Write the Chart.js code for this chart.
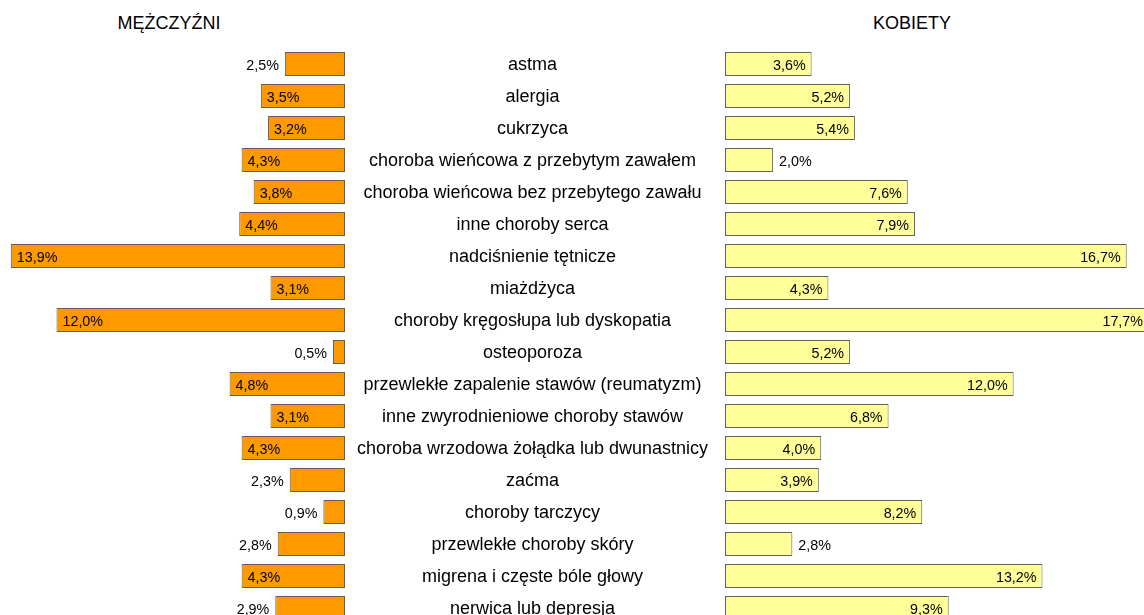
<!DOCTYPE html>
<html>
<head>
<meta charset="utf-8">
<script src="https://cdn.jsdelivr.net/npm/chart.js@4/dist/chart.umd.min.js"></script>
<style>
    html, body { margin: 0; padding: 0; background: #fff; overflow: hidden; width: 1144px; height: 615px; }
    .title { position: absolute; top: 14px; width: 200px; text-align: center; font: 18px "Liberation Sans", Arial, sans-serif; line-height: 18px; color: #000; }
    canvas { position: absolute; top: 48px; }
</style>
</head>
<body>
<div class="title" style="left: 69px;">MĘŻCZYŹNI</div>
<div class="title" style="left: 812px;">KOBIETY</div>
<canvas id="menChart" width="720" height="576" style="left: 0;"></canvas>
<canvas id="womenChart" width="419" height="576" style="left: 725px;"></canvas>
<script>
const categories = [
    'astma',
    'alergia',
    'cukrzyca',
    'choroba wieńcowa z przebytym zawałem',
    'choroba wieńcowa bez przebytego zawału',
    'inne choroby serca',
    'nadciśnienie tętnicze',
    'miażdżyca',
    'choroby kręgosłupa lub dyskopatia',
    'osteoporoza',
    'przewlekłe zapalenie stawów (reumatyzm)',
    'inne zwyrodnieniowe choroby stawów',
    'choroba wrzodowa żołądka lub dwunastnicy',
    'zaćma',
    'choroby tarczycy',
    'przewlekłe choroby skóry',
    'migrena i częste bóle głowy',
    'nerwica lub depresja',
];
const menValues = [2.5, 3.5, 3.2, 4.3, 3.8, 4.4, 13.9, 3.1, 12.0, 0.5, 4.8, 3.1, 4.3, 2.3, 0.9, 2.8, 4.3, 2.9];
const womenValues = [3.6, 5.2, 5.4, 2.0, 7.6, 7.9, 16.7, 4.3, 17.7, 5.2, 12.0, 6.8, 4.0, 3.9, 8.2, 2.8, 13.2, 9.3];

const FONT = '"Liberation Sans", Arial, sans-serif';
const fmt = (v) => v.toFixed(1).replace('.', ',') + '%';

// value labels: inside the bar when it is wide enough, otherwise just outside
const valueLabels = {
    id: 'valueLabels',
    afterDatasetsDraw(chart) {
        const ctx = chart.ctx;
        const area = chart.chartArea;
        const reversed = chart.options.scales.x.reverse;
        const data = chart.data.datasets[0].data;
        ctx.save();
        ctx.font = '14.3px ' + FONT;
        ctx.fillStyle = '#000';
        ctx.textBaseline = 'middle';
        chart.getDatasetMeta(0).data.forEach((bar, i) => {
            const v = data[i];
            const y = bar.y + 2;
            if (reversed) {
                if (v >= 3) {
                    ctx.textAlign = 'left';
                    ctx.fillText(fmt(v), Math.max(bar.x + 6, area.left + 2), y);
                } else {
                    ctx.textAlign = 'right';
                    ctx.fillText(fmt(v), bar.x - 6, y);
                }
            } else {
                if (v >= 3) {
                    ctx.textAlign = 'right';
                    ctx.fillText(fmt(v), Math.min(bar.x - 6, area.right - 1), y);
                } else {
                    ctx.textAlign = 'left';
                    ctx.fillText(fmt(v), bar.x + 6, y);
                }
            }
        });
        ctx.restore();
    },
};

// category names centred in the gap between the two charts
const centreLabels = {
    id: 'centreLabels',
    afterDraw(chart) {
        const scale = chart.scales.y;
        const ctx = chart.ctx;
        ctx.save();
        ctx.font = '18px ' + FONT;
        ctx.fillStyle = '#000';
        ctx.textAlign = 'center';
        ctx.textBaseline = 'middle';
        const cx = (scale.left + scale.right) / 2;
        categories.forEach((name, i) => {
            ctx.fillText(name, cx, scale.getPixelForTick(i) + 1);
        });
        ctx.restore();
    },
};

function barOptions(reverse, max, showAxis) {
    const y = {
        display: showAxis,
        position: 'right',
        grid: { display: false, drawTicks: false },
        border: { display: false },
        ticks: { display: false },
    };
    if (showAxis) {
        y.afterFit = (scale) => { scale.width = 375; };
    }
    return {
        indexAxis: 'y',
        responsive: false,
        animation: false,
        layout: { padding: 0 },
        plugins: { legend: { display: false }, tooltip: { enabled: false } },
        scales: {
            x: { display: false, reverse, min: 0, max },
            y,
        },
    };
}

new Chart(document.getElementById('menChart'), {
    type: 'bar',
    data: {
        labels: categories,
        datasets: [{
            data: menValues,
            backgroundColor: '#FF9900',
            borderColor: '#5f5f5f',
            borderWidth: 1,
            borderSkipped: false,
            categoryPercentage: 1,
            barPercentage: 0.75,
        }],
    },
    options: barOptions(true, 14.35, true),
    plugins: [valueLabels, centreLabels],
});

new Chart(document.getElementById('womenChart'), {
    type: 'bar',
    data: {
        labels: categories,
        datasets: [{
            data: womenValues,
            backgroundColor: '#FFFF99',
            borderColor: '#5f5f5f',
            borderWidth: 1,
            borderSkipped: false,
            categoryPercentage: 1,
            barPercentage: 0.75,
        }],
    },
    options: barOptions(false, 17.42, false),
    plugins: [valueLabels],
});
</script>
</body>
</html>
